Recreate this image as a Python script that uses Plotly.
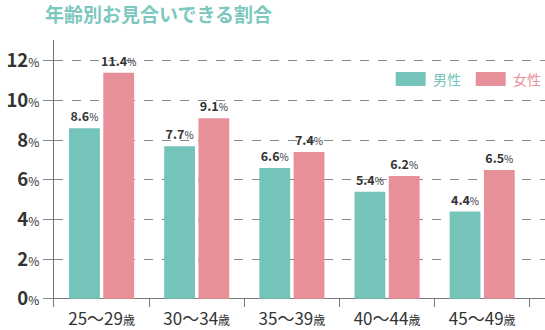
import plotly.graph_objects as go

# Age groups and the share of each group that got to an omiai (%)
age_groups = ["25～29歳", "30～34歳", "35～39歳", "40～44歳", "45～49歳"]
age_tick_text = ["25～29<span style='font-size:12px'>歳</span>",
                 "30～34<span style='font-size:12px'>歳</span>",
                 "35～39<span style='font-size:12px'>歳</span>",
                 "40～44<span style='font-size:12px'>歳</span>",
                 "45～49<span style='font-size:12px'>歳</span>"]
male_rate = [8.6, 7.7, 6.6, 5.4, 4.4]
female_rate = [11.4, 9.1, 7.4, 6.2, 6.5]
series_names = ["男性", "女性"]

y_ticks = [0, 2, 4, 6, 8, 10, 12]
y_tick_text = [f"<b>{v}</b><span style='font-size:12px'>%</span>" for v in y_ticks]

TEAL = "#74C4B9"
PINK = "#E8909A"
TEXT = "#333333"
FONT = "Noto Sans CJK JP"


def bar_labels(values):
    return [f"<b>{v:.1f}</b><span style='font-size:10px'>%</span>" for v in values]


fig = go.Figure()
for name, vals, color in [(series_names[0], male_rate, TEAL), (series_names[1], female_rate, PINK)]:
    fig.add_trace(go.Bar(
        x=age_groups, y=vals, name=name, marker=dict(color=color, line=dict(width=0)),
        text=bar_labels(vals), textposition="outside", cliponaxis=False,
        constraintext="none",
        textfont=dict(family=FONT, size=12.5, color=TEXT),
        hoverinfo="skip", showlegend=False,
    ))

fig.update_layout(
    width=545, height=330,
    margin=dict(l=54, r=0, t=40, b=20),
    paper_bgcolor="white", plot_bgcolor="white",
    barmode="group", bargap=0.28, bargroupgap=0.1,
    font=dict(family=FONT, color=TEXT),
    title=dict(text="<b>年齢別お見合いできる割合</b>", x=0, xref="paper", xanchor="left",
               y=0.955, yref="container", yanchor="middle", pad=dict(l=-9),
               font=dict(family=FONT, size=19, color="#7CC8BE")),
)

fig.update_xaxes(
    type="category", range=[-0.5, 4.66],
    tickmode="array", tickvals=age_groups, ticktext=age_tick_text,
    tickson="boundaries", ticks="inside", ticklen=8, tickcolor="#777777", tickwidth=1,
    showline=False, showgrid=False, zeroline=False,
    tickfont=dict(family=FONT, size=17, color=TEXT),
)

fig.update_yaxes(
    range=[-0.41, 13.05],
    tickmode="array", tickvals=y_ticks, ticktext=y_tick_text,
    ticks="outside", ticklen=10, tickcolor="#888888", tickwidth=1,
    showgrid=True, gridcolor="#888888", griddash="dash", gridwidth=1,
    showline=True, linecolor="#777777", linewidth=1,
    zeroline=True, zerolinecolor="#777777", zerolinewidth=1,
    tickfont=dict(family=FONT, size=18.5, color=TEXT),
)

# Legend: coloured swatches with coloured labels
legend_items = [(series_names[0], TEAL, 0.696), (series_names[1], PINK, 0.859)]
for name, color, x0 in legend_items:
    fig.add_shape(type="rect", xref="paper", yref="paper",
                  x0=x0, x1=x0 + 0.061, y0=0.828, y1=0.880,
                  fillcolor=color, line=dict(width=0))
    fig.add_annotation(text=name, xref="paper", yref="paper",
                       x=x0 + 0.071, y=0.854, xanchor="left", yanchor="middle",
                       showarrow=False, font=dict(family=FONT, size=14, color=color))

fig.write_html("out.html")
